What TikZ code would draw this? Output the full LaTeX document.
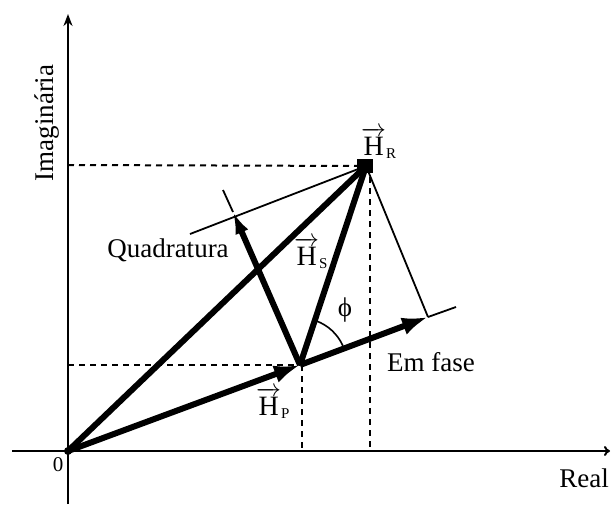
\documentclass[tikz,border=0pt]{standalone}
\usepackage{amsmath}
\usepackage{fontspec}
\setmainfont{Liberation Serif}
\usetikzlibrary{arrows.meta}
\begin{document}
\begin{tikzpicture}[x=1pt,y=-1pt,
  txt/.style={inner sep=0pt,font=\fontsize{27}{30}\selectfont},
  hlab/.style={inner sep=0pt,anchor=base west,font=\fontsize{28}{30}\selectfont},
  axis/.style={line width=2pt},
  guide/.style={line width=2pt,dash pattern=on 6pt off 5pt},
  thin/.style={line width=1.8pt},
  thickvec/.style={line width=6pt,line join=miter},
  bigtip/.style={-{Latex[length=26pt,width=18pt]}},
  qtip/.style={-{Latex[length=22pt,width=14pt]}}]
\useasboundingbox (0,0) rectangle (611,504);
% key points
\coordinate (O) at (68,451);
\coordinate (HR) at (366,166);
\coordinate (HP) at (300,365);
\coordinate (QT) at (233,212);
\coordinate (QE) at (223,190);
\coordinate (ET) at (428,317);
\coordinate (EE) at (456,307);
\coordinate (L1) at (190,234);
\coordinate (YB) at (68,504);
\coordinate (YT) at (68,14);
\coordinate (XL) at (12,451);
\coordinate (XR) at (610,451);
\coordinate (YR) at (68,165);
\coordinate (YP) at (68,365);
\coordinate (XRv) at (370,451);
\coordinate (XPv) at (302,451);
% axes
\draw[axis,-{Stealth[length=12pt,width=9pt]}] (YB) -- (YT);
\draw[axis,-{To[length=6pt,width=10pt]}] (XL) -- (XR);
% dashed guides
\draw[guide] (YR) -- (HR);
\draw[guide] (YP) -- (HP);
\draw[guide] (370,166) -- (XRv);
\draw[guide] (302,365) -- (XPv);
% thin construction lines
\draw[thin] (L1) -- (HR);
\draw[thin] (HR) -- (ET);
\draw[thin] (QT) -- (QE);
\draw[thin] (ET) -- (EE);
% thick vectors
\draw[thickvec] (O) -- (HR);
\draw[thickvec] (HP) -- (HR);
\draw[thickvec,bigtip] (O) -- (HP);
\draw[thickvec,qtip] (HP) -- (QT);
\draw[thickvec,bigtip] (HP) -- (ET);
\fill (HR) ++(-9,-7) rectangle ++(16,14);
\fill (O) circle (4pt);
% angle arc
\draw[line width=1.6pt] (HP) ++(-24:47) arc[start angle=-24,end angle=-70,radius=47];
% labels
\node[hlab] (lHR) at (361,155) {$\overrightarrow{\text{H}}_{\text{\fontsize{15}{15}\selectfont R}}$};
\node[hlab] (lHS) at (294,265) {$\overrightarrow{\text{H}}_{\text{\fontsize{15}{15}\selectfont S}}$};
\node[hlab] (lHP) at (256,415) {$\overrightarrow{\text{H}}_{\text{\fontsize{15}{15}\selectfont P}}$};
\node[inner sep=0pt,font=\fontsize{27}{30}\selectfont] (phi) at (345,310) {ϕ};
\node[txt] (quad) at (168,250) {Quadratura};
\node[txt] (emf) at (431,362) {Em fase};
\node[txt] (real) at (584,478) {Real};
\node[txt,rotate=90] (imag) at (47,123) {Imaginária};
\node[inner sep=0pt,font=\fontsize{21}{24}\selectfont] (zero) at (58,465) {0};
\end{tikzpicture}
\end{document}
